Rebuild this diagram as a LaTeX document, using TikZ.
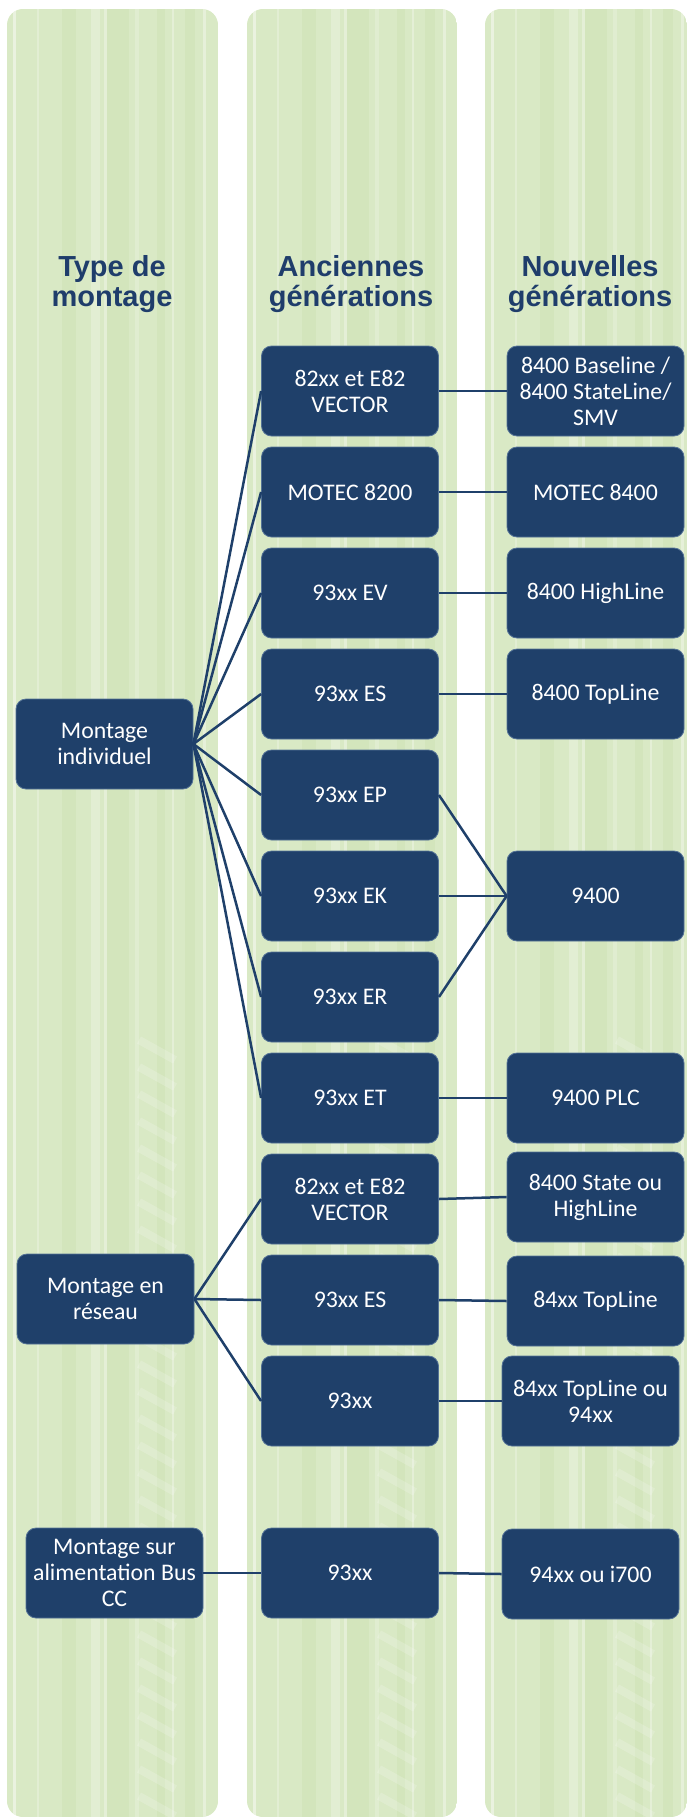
\documentclass[tikz,border=0pt]{standalone}
\usepackage{fontspec}
\setmainfont{Carlito}
\newfontfamily\headfont{Liberation Sans}
\definecolor{boxblue}{RGB}{31,64,106}
\definecolor{boxline}{RGB}{84,114,150}
\definecolor{headblue}{RGB}{31,61,107}
\definecolor{colgreen}{RGB}{217,233,197}
\definecolor{streak}{RGB}{200,224,172}
\tikzset{
  genbox/.style={draw=boxline, line width=0.4pt, fill=boxblue, text=white,
    rounded corners=5pt, minimum width=88.5pt, minimum height=45pt,
    align=center, inner sep=2pt, font=\fontsize{11.9}{13}\selectfont},
  headtext/.style={text=headblue, align=center,
    font=\headfont\bfseries\fontsize{14.5}{15}\selectfont},
  link/.style={draw=boxblue, line width=1.25pt},
}
\begin{document}
\begin{tikzpicture}[x=0.5pt, y=-0.5pt]
    \useasboundingbox (0,0) rectangle (689,1819);

    % columns
    \foreach \cx/\cw in {7/211, 247/210, 485/202} {
        \begin{scope}
            \clip[rounded corners=8pt] (\cx,9) rectangle ++(\cw,1808);
            \fill[colgreen] (\cx,9) rectangle ++(\cw,1808);
            \foreach \sx/\sw in {55/14, 100/22, 150/8, 178/10}
                \fill[streak, opacity=0.35] (\cx+\sx,9) rectangle ++(\sw,1808);
            \foreach \sx/\sw/\op in {6/3/0.45, 30/2/0.25, 84/9/0.25, 97/3/0.3, 128/4/0.2, 165/2/0.3, 196/3/0.35}
                \fill[white, opacity=\op] (\cx+\sx,9) rectangle ++(\sw,1808);
            \foreach \ry in {1040,1067,...,1800}
                \draw[white, opacity=0.18, line width=4pt] (\cx+132,\ry) -- (\cx+168,\ry+20);
        \end{scope}
    }

    % headers
    \node[headtext] (htype) at (112,284) {Type de\\montage};
    \node[headtext] (hold) at (351,284) {Anciennes\\générations};
    \node[headtext] (hnew) at (590,284) {Nouvelles\\générations};

    % type de montage
    \node[genbox] (indiv) at (104.5,744) {Montage\\individuel};
    \node[genbox] (reseau) at (105.5,1299) {Montage en\\réseau};
    \node[genbox] (buscc) at (114.5,1573) {Montage sur\\alimentation Bus\\CC};

    % anciennes generations
    \node[genbox] (v82) at (350,391) {82xx et E82\\VECTOR};
    \node[genbox] (m82) at (350,492) {MOTEC 8200};
    \node[genbox] (ev) at (350,593) {93xx EV};
    \node[genbox] (es) at (350,694) {93xx ES};
    \node[genbox] (ep) at (350,795) {93xx EP};
    \node[genbox] (ek) at (350,896) {93xx EK};
    \node[genbox] (er) at (350,997) {93xx ER};
    \node[genbox] (et) at (350,1098) {93xx ET};
    \node[genbox] (nv82) at (350,1199) {82xx et E82\\VECTOR};
    \node[genbox] (nes) at (350,1300) {93xx ES};
    \node[genbox] (n93) at (350,1401) {93xx};
    \node[genbox] (b93) at (350,1573) {93xx};

    % nouvelles generations
    \node[genbox] (base) at (595.5,391) {8400 Baseline /\\8400 StateLine/\\SMV};
    \node[genbox] (m84) at (595.5,492) {MOTEC 8400};
    \node[genbox] (high) at (595.5,593) {8400 HighLine};
    \node[genbox] (top) at (595.5,694) {8400 TopLine};
    \node[genbox] (n94) at (595.5,896) {9400};
    \node[genbox] (plc) at (595.5,1098) {9400 PLC};
    \node[genbox] (state) at (595.5,1197) {8400 State ou\\HighLine};
    \node[genbox] (ntop) at (595.5,1301) {84xx TopLine};
    \node[genbox] (topou) at (590.5,1401) {84xx TopLine ou\\94xx};
    \node[genbox] (i700) at (590.5,1574) {94xx ou i700};

    % links
    \foreach \n in {v82,m82,ev,es,ep,ek,er,et}
        \draw[link] (indiv.east) -- (\n.west);
    \foreach \n in {nv82,nes,n93}
        \draw[link] (reseau.east) -- (\n.west);
    \draw[link] (buscc.east) -- (b93.west);
    \foreach \a/\b in {v82/base, m82/m84, ev/high, es/top, ep/n94, ek/n94, er/n94, et/plc,
                       nv82/state, nes/ntop, n93/topou, b93/i700}
        \draw[link] (\a.east) -- (\b.west);

\end{tikzpicture}
\end{document}
